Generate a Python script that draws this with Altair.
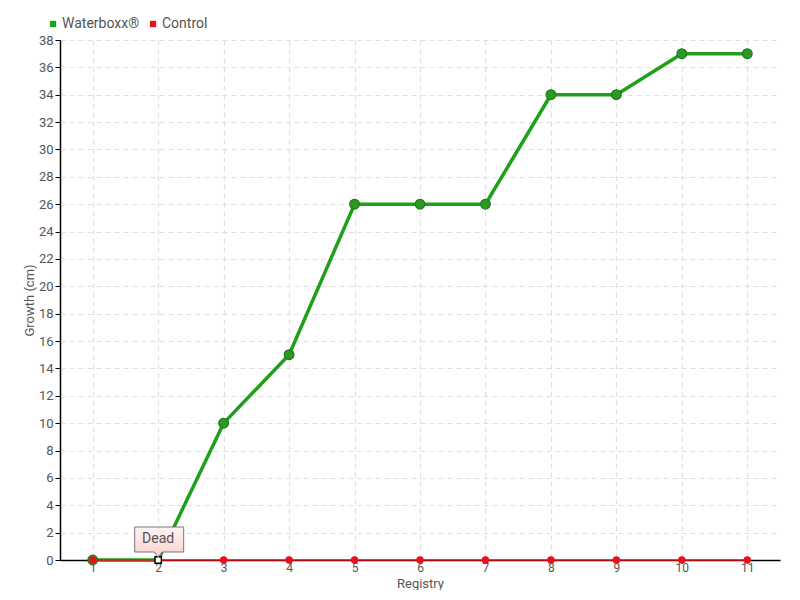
import altair as alt
import pandas as pd

registry = [1, 2, 3, 4, 5, 6, 7, 8, 9, 10, 11]
waterboxx = [0, 0, 10, 15, 26, 26, 26, 34, 34, 37, 37]
control = [0, 0, 0, 0, 0, 0, 0, 0, 0, 0, 0]
series_names = ["Waterboxx®", "Control"]
series_colors = ["#1fa01a", "#e8101c"]
dead_registry = [2]
dead_value = [0]
dead_label = ["Dead"]

FONT = "Roboto"

wdf = pd.DataFrame({"Registry": registry, "Growth": waterboxx, "Series": series_names[0]})
wdf_pts = wdf[~wdf["Registry"].isin(dead_registry)]
cdf = pd.DataFrame({"Registry": registry, "Growth": control, "Series": series_names[1]})
ddf = pd.DataFrame({"Registry": dead_registry, "Growth": dead_value, "Label": dead_label})

xs = alt.X("Registry:Q", scale=alt.Scale(domain=[0.5, 11.5], nice=False, zero=False),
           axis=alt.Axis(values=registry, title="Registry", format="d"))
ys = alt.Y("Growth:Q", scale=alt.Scale(domain=[0, 38], nice=False),
           axis=alt.Axis(values=list(range(0, 39, 2)), title="Growth (cm)"))
cscale = alt.Scale(domain=series_names, range=series_colors)
color = alt.Color("Series:N", scale=cscale,
                  legend=alt.Legend(orient="none", legendX=-14, legendY=-23, direction="horizontal",
                                    title=None, symbolType="square", symbolSize=40,
                                    labelFont=FONT, labelFontSize=14, labelColor="#555",
                                    symbolStrokeWidth=0, columnPadding=6, symbolOffset=0,
                                    labelOffset=2))
nocolor = alt.Color("Series:N", scale=cscale, legend=None)

wline = alt.Chart(wdf).mark_line(strokeWidth=3.5).encode(x=xs, y=ys, color=color)
wpts = alt.Chart(wdf_pts).mark_point(filled=True, size=95, opacity=1, stroke="#237a1c",
                                     strokeWidth=1.2, fill="#2a9a22").encode(x=xs, y=ys, color=nocolor)
cline = alt.Chart(cdf).mark_line(strokeWidth=1.5).encode(x=xs, y=ys, color=nocolor)
cpts = alt.Chart(cdf).mark_point(filled=True, size=55, opacity=1).encode(x=xs, y=ys, color=nocolor)
dead_pt = alt.Chart(ddf).mark_point(shape="square", size=40, filled=True, fill="white",
                                    stroke="black", strokeWidth=1.5, opacity=1).encode(x=xs, y=ys)
box_path = ("M -0.94 -1.32 L 1.02 -1.32 L 1.02 -0.32 L 0.16 -0.32 L 0 -0.12 "
            "L -0.16 -0.32 L -0.94 -0.32 Z")
dead_box = alt.Chart(ddf).mark_point(
    shape=box_path, size=2500, filled=True, opacity=1, stroke="#777", strokeWidth=1,
    fill=alt.Gradient(gradient="linear", x1=0, y1=0, x2=0, y2=1,
                      stops=[alt.GradientStop(color="#fff4f4", offset=0),
                             alt.GradientStop(color="#f8d0d0", offset=1)])
).encode(x=xs, y=ys)
dead_text = alt.Chart(ddf).mark_text(font=FONT, fontSize=14, color="#555", dy=-21).encode(
    x=xs, y=ys, text="Label:N")

chart = alt.layer(wline, wpts, cline, cpts, dead_pt, dead_box, dead_text).properties(
    width=720, height=520,
    autosize=alt.AutoSizeParams(type="none"),
    padding={"left": 52, "top": 32, "right": 4, "bottom": 30},
).configure_view(stroke=None).configure_axis(
    domainColor="black", domainWidth=1.5, tickColor="black", tickSize=5,
    gridColor="#e0e0e0", gridDash=[5, 4], gridWidth=1.2,
    labelFont=FONT, labelFontSize=13, labelColor="#555",
    titleFont=FONT, titleFontSize=13, titleColor="#555", titleFontWeight="normal",
).configure_axisX(labelPadding=-1, titleY=17, titleBaseline="top", tickSize=3,
                  labelFontSize=12).configure_axisY(labelPadding=2, titlePadding=2)

chart.save("out.html", embed_options={"renderer": "svg", "actions": False})
